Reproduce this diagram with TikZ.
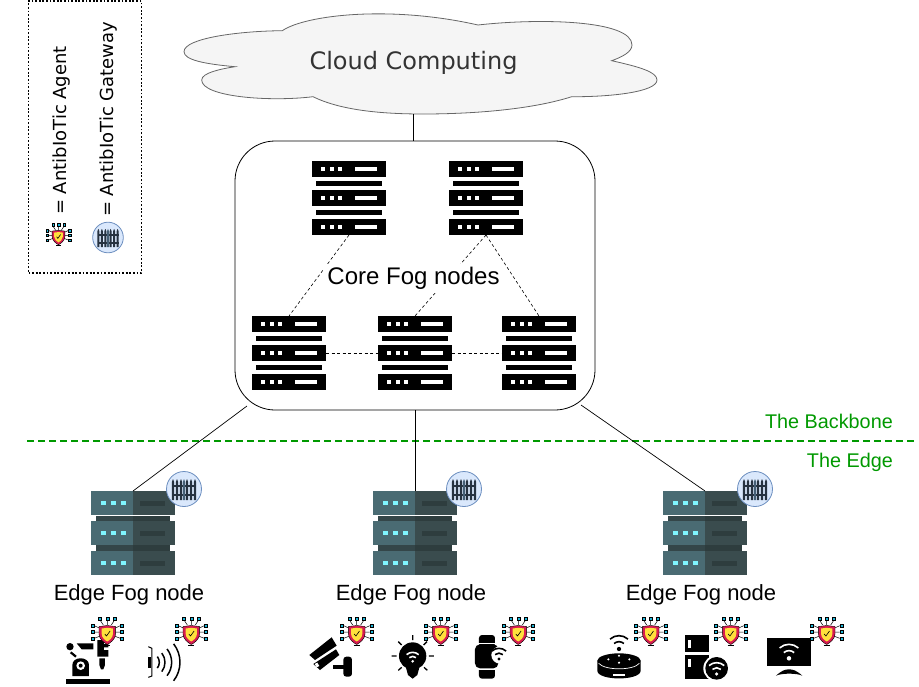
\documentclass[tikz,border=0pt]{standalone}
\usepackage{fontspec}
\usetikzlibrary{positioning}
\usetikzlibrary{calc}
\setmainfont{Liberation Sans}
\newfontfamily\dejavu{DejaVu Sans}
\definecolor{cb}{RGB}{0,0,0}
\definecolor{cbt}{RGB}{51,51,51}
\definecolor{cgreen}{RGB}{0,153,0}
\definecolor{ccloud}{RGB}{245,245,245}
\definecolor{cline}{RGB}{102,102,102}
\definecolor{cgate}{RGB}{218,232,252}
\definecolor{cgateb}{RGB}{108,142,191}
\definecolor{cfence}{RGB}{38,50,64}
\definecolor{cfencel}{RGB}{70,96,118}
\definecolor{crackl}{RGB}{74,107,115}
\definecolor{crackd}{RGB}{58,76,78}
\definecolor{crackm}{RGB}{46,61,62}
\definecolor{cled}{RGB}{127,245,255}
\definecolor{cshield}{RGB}{216,27,80}
\definecolor{cgold}{RGB}{255,224,60}
\definecolor{cteal}{RGB}{30,180,214}
\tikzstyle{slot}=[inner sep=0pt, outer sep=0pt, minimum width=74pt, minimum height=74pt]
\tikzstyle{edgeslot}=[slot, minimum width=84pt, minimum height=84pt]
\tikzstyle{fogbox}=[draw=cb, line width=0.8pt, fill=white, rounded corners=40pt, inner sep=0pt, minimum width=360pt, minimum height=269pt]
\tikzstyle{link}=[cb, line width=0.7pt]
\tikzstyle{fogdash}=[cb, line width=0.6pt, dash pattern=on 3pt off 2.5pt]
\tikzstyle{label}=[cb, font=\fontsize{22}{25}\selectfont, inner sep=0pt]
\tikzstyle{zone}=[cgreen, font=\fontsize{19.8}{24}\selectfont, inner sep=0pt]
\tikzstyle{legend}=[cb, font=\dejavu\fontsize{18}{22}\selectfont, rotate=90, anchor=west, inner sep=0pt]
\tikzstyle{icon}=[x=0.3333pt, y=-0.3333pt]
\newcommand{\wifimark}[4]{% x, y, colour, outer radius
  \fill [#3] (#1,#2) circle ({#4*0.16});
  \draw [#3, line width=1.6pt] (#1,#2) ++(228:{#4*0.55}) arc (228:312:{#4*0.55});
  \draw [#3, line width=1.6pt] (#1,#2) ++(228:#4) arc (228:312:#4);
}
\tikzset{
  pics/corerack/.style={code={
    \foreach \y in {-29,0,29}{
      \fill [cb] (-37,\y-8) rectangle (37,\y+8);
      \foreach \x in {-27.7,-19,-10.7}
        \fill [white] (\x,\y-2) rectangle (\x+4,\y+2);
      \fill [white] (6.3,\y-2) rectangle (28,\y+2);
    }
    \foreach \y in {-14.5,14.5}
      \fill [cb] (-33,\y-2.2) rectangle (33,\y+2.2);
  }},
  pics/edgerack/.style={code={
    \foreach \y in {-17,12}{
      \fill [crackm!80!crackl] (-37,\y-0.5) rectangle (0,\y+5.5);
      \fill [crackm] (0,\y-0.5) rectangle (37,\y+5.5);
    }
    \foreach \y in {-30,0,30}{
      \fill [crackl] (-42,\y-12.2) rectangle (0,\y+12.2);
      \fill [crackd] (0,\y-12.2) rectangle (42,\y+12.2);
      \foreach \x in {-32,-22,-12}
        \fill [cled] (\x,\y-2.4) rectangle (\x+5,\y+2.4);
      \fill [crackm] (7,\y-2.5) rectangle (32,\y+2.5);
    }
  }},
  pics/gateway/.style={code={
    \fill [cgate, draw=cgateb, line width=0.8pt] (0,0) circle (17.5);
    \fill [cfence] (-12,-4) rectangle (12,-1.8);
    \fill [cfence] (-12,5) rectangle (12,7.2);
    \foreach \x [count=\k] in {-11,-7,-3,3,7,11}{
      \fill [cfence] (\x-1.2,11) -- (\x-1.2,-7) -- (\x,-10) -- (\x+1.2,-7) -- (\x+1.2,11) -- cycle;
    }
    \fill [cfencel] (-1.2,11) -- (-1.2,-7) -- (0,-10) -- (1.2,-7) -- (1.2,11) -- cycle;
  }},
  pics/agent/.style={code={
    \draw [cb, line width=0.5pt] (-7.3,-11) -- (-4,-6) (0,-11) -- (0,-6) (7.3,-11) -- (4,-6);
    \draw [cb, line width=0.5pt] (-13,-5.3) -- (-8,-3) (-13,1) -- (-8,1) (-13,7.3) -- (-7,5);
    \draw [cb, line width=0.5pt] (13,-5.3) -- (8,-3) (13,1) -- (8,1) (13,7.3) -- (7,5);
    \foreach \x in {-7.3,0,7.3}
      \fill [cteal, draw=cb, line width=0.3pt] (\x-1.6,-14.3) rectangle (\x+1.6,-11.1);
    \foreach \x in {-14.7,14.7}
      \foreach \y in {-5.3,1,7.3}
        \fill [cteal, draw=cb, line width=0.3pt] (\x-1.6,\y-1.6) rectangle (\x+1.6,\y+1.6);
    \fill [cshield, draw=cb, line width=0.4pt] (-8.3,-4.5) -- (0,-5.5) -- (8.3,-4.5) -- (8.3,3) .. controls (8.3,8) and (3,12) .. (0,13.5) .. controls (-3,12) and (-8.3,8) .. (-8.3,3) -- cycle;
    \fill [cgold] (-5.6,-2.5) -- (0,-3.2) -- (5.6,-2.5) -- (5.6,3) .. controls (5.6,6.5) and (2,9.5) .. (0,10.5) .. controls (-2,9.5) and (-5.6,6.5) .. (-5.6,3) -- cycle;
    \draw [cb, line width=0.6pt] (-2.5,3) -- (-0.8,5) -- (2.8,0);
    \draw [cb, line width=0.5pt] (-3,14.7) -- (3,14.7);
  }},
  pics/robot/.style={code={
    \fill [cb] (78,237) rectangle (210,252);
    \fill [cb] (97,228) -- (97,195) .. controls (97,168) and (147,168) .. (147,195) -- (147,228) -- cycle;
    \fill [white] (122,197) circle (13);
    \fill [cb] (122,197) circle (6);
    \fill [cb] (90,140) circle (11);
    \draw [cb, line width=2.2pt] (92,157) -- (108,170);
    \fill [cb] (110,130) -- (160,130) -- (160,148) -- (125,148) -- cycle;
    \fill [cb] (172,120) -- (192,120) -- (192,132) -- (205,132) -- (205,142) -- (192,142) -- (192,150) -- (205,150) -- (205,170) -- (172,170) -- cycle;
    \fill [cb] (178,175) -- (195,175) -- (195,195) -- (190,208) -- (183,208) -- (178,195) -- cycle;
  }},
  pics/waves/.style={code={
    \draw [cb, line width=1pt] (325,140) -- (336,145) -- (336,228) -- (325,232);
    \fill [cb] (324,172) rectangle (332,205);
    \foreach \r in {28,45,65,90}
      \draw [cb, line width=1.5pt] (330,187) ++(-38:\r) arc (-38:38:\r);
  }},
  pics/camera/.style={code={
    \fill [cb] (28,165) -- (95,112) -- (110,137) -- (45,180) -- cycle;
    \fill [cb] (40,192) -- (108,148) -- (118,165) -- (60,210) -- cycle;
    \fill [white] (44,192) -- (52,188) -- (58,198) -- (50,202) -- cycle;
    \fill [cb] (98,195) rectangle (132,206);
    \fill [cb, rounded corners=3pt] (130,170) rectangle (156,230);
  }},
  pics/bulb/.style={code={
    \fill [cb] (338,168) circle (41);
    \fill [cb] (318,203) -- (358,203) -- (352,225) -- (338,236) -- (324,225) -- cycle;
    \draw [cb, line width=1.3pt] (338,105) -- (338,120) (295,125) -- (305,135) (381,125) -- (371,135)
      (275,168) -- (290,168) (387,168) -- (402,168) (295,211) -- (305,202) (382,211) -- (372,202);
    \wifimark{338}{184}{white}{27}
  }},
  pics/watch/.style={code={
    \fill [cb, rounded corners=3pt] (537,105) rectangle (585,140);
    \fill [cb, rounded corners=3pt] (537,195) rectangle (585,236);
    \fill [white] (535,129) rectangle (590,133);
    \fill [white] (535,205) rectangle (590,209);
    \fill [cb, rounded corners=5pt] (525,133) rectangle (595,205);
    \fill [white] (600,165) circle (26);
    \wifimark{597}{177}{cb}{32}
  }},
  pics/speaker/.style={code={
    \wifimark{87}{147}{cb}{40}
    \fill [cb] (22,182) -- (22,212) .. controls (22,243) and (152,243) .. (152,212) -- (152,182) -- cycle;
    \fill [cb] (87,182) ellipse (65 and 22);
    \draw [white, line width=0.7pt] (26,190) .. controls (45,212) and (130,212) .. (148,190);
    \foreach \x/\y in {87/167,55/178,118/178,87/188}
      \fill [white] (\x,\y) circle (3.5);
    \fill [white] (70,222) rectangle (105,228);
  }},
  pics/fridge/.style={code={
    \fill [cb] (285,105) rectangle (357,157);
    \fill [cb] (285,165) rectangle (357,236);
    \fill [white] (295,120) rectangle (303,145);
    \fill [white] (295,176) rectangle (303,200);
    \fill [white] (380,205) circle (40);
    \fill [cb] (380,205) circle (34);
    \wifimark{380}{222}{white}{34}
  }},
  pics/monitor/.style={code={
    \fill [cb] (531,113) rectangle (663,197);
    \wifimark{597}{175}{white}{42}
    \fill [cb] (558,227) .. controls (575,212) and (585,208) .. (597,208) .. controls (610,208) and (620,212) .. (637,227) .. controls (620,219) and (575,219) .. (558,227) -- cycle;
  }},
}

\begin{document}
\begin{tikzpicture}[x=1pt, y=-1pt]
  \useasboundingbox (0,0) rectangle (919,686);

  % the legend
  \node [draw=cb, line width=1.8pt, dash pattern=on 1.8pt off 1.8pt, inner sep=0pt, minimum width=113pt, minimum height=272pt] (legendbox) at (85,137) {};
  \node [legend] (legend-agent) at (61.5,215) {= AntibIoTic Agent};
  \node [legend] (legend-gateway) at (108.5,217) {= AntibIoTic Gateway};
  \pic [scale=0.76] at (58.5,234.5) {agent};
  \pic [scale=0.875] at (108,237.5) {gateway};

  % the cloud
  \filldraw [fill=ccloud, draw=cline, line width=0.8pt]
    (282.3,30.7) .. controls (305,15) and (390,5) .. (478,25)
    .. controls (540,18) and (632,20) .. (632,45)
    .. controls (632,52) and (622,57) .. (611.7,60.7)
    .. controls (640,67) and (657,72) .. (657,80)
    .. controls (657,92) and (610,97) .. (571.7,96.7)
    .. controls (530,110) and (470,114) .. (423,114)
    .. controls (380,114) and (340,110) .. (313,96.7)
    .. controls (270,102) and (201.7,97) .. (201.7,80)
    .. controls (201.7,73) and (220,69) .. (235,66.7)
    .. controls (205,64) and (184,60) .. (184,51.7)
    .. controls (184,38) and (240,31) .. (282.3,30.7) -- cycle;
  \node [cbt, font=\dejavu\fontsize{24}{28}\selectfont, inner sep=0pt] (cloud) at (413.5,62.5) {Cloud Computing};
  \coordinate (cloud-base) at (413,114);

  % the core fog
  \node [fogbox] (core) at (415,275.5) {};
  \draw [link] (cloud-base) -- (cloud-base |- core.north);
  \foreach \x/\y [count=\i] in {349/198,486/198,289/353,415/353,539/353}{
    \node [slot] (core-\i) at (\x,\y) {};
    \pic at (core-\i) {corerack};
  }
  \draw [fogdash] (core-1.south) -- (core-3.north);
  \draw [fogdash] (core-2.south) -- (core-4.north);
  \draw [fogdash] (core-2.south) -- (core-5.north);
  \draw [fogdash] (core-3.east) -- (core-4.west);
  \draw [fogdash] (core-4.east) -- (core-5.west);
  \node [label, fill=white, font=\fontsize{24}{28}\selectfont, inner xsep=3pt, inner ysep=3pt] (core-label) at (413.5,278.5) {Core Fog nodes};

  % the edge
  \node [zone, anchor=east] (backbone) at (893,421) {The Backbone};
  \node [zone, anchor=east] (theedge) at (893,462.5) {The Edge};
  \coordinate (split-l) at (27,441);
  \coordinate (split-r) at (917,441);
  \draw [cgreen, line width=1.5pt, dash pattern=on 7pt off 4pt] (split-l) -- (split-r);
  \coordinate (core-l) at (247,406);
  \coordinate (core-r) at (581,405);
  \foreach \x/\gx/\lx [count=\i] in {133/184/129,415/464/411,705/755/701}{
    \node [edgeslot] (edge-\i) at (\x,533) {};
    \pic at (edge-\i) {edgerack};
    \pic at (\gx,489) {gateway};
    \node [label] (edge-label-\i) at (\lx,594.5) {Edge Fog node};
  }
  \draw [link] (core-l) -- (edge-1.north);
  \draw [link] (edge-2.north |- core.south) -- (edge-2.north);
  \draw [link] (core-r) -- (edge-3.north);

  % the devices
  \coordinate (row-a) at (40,600);
  \coordinate (row-b) at (300,600);
  \coordinate (row-c) at (590,600);
  \pic [icon] at (row-a) {robot};
  \pic [icon] at (row-a) {waves};
  \pic [icon] at (row-b) {camera};
  \pic [icon] at (row-b) {bulb};
  \pic [icon] at (row-b) {watch};
  \pic [icon] at (row-c) {speaker};
  \pic [icon] at (row-c) {fridge};
  \pic [icon] at (row-c) {monitor};
  \foreach \x in {107.3,191.3,356.7,440.7,518.3,650.7,730.7,826.7}
    \pic at (\x,631) {agent};
\end{tikzpicture}
\end{document}
